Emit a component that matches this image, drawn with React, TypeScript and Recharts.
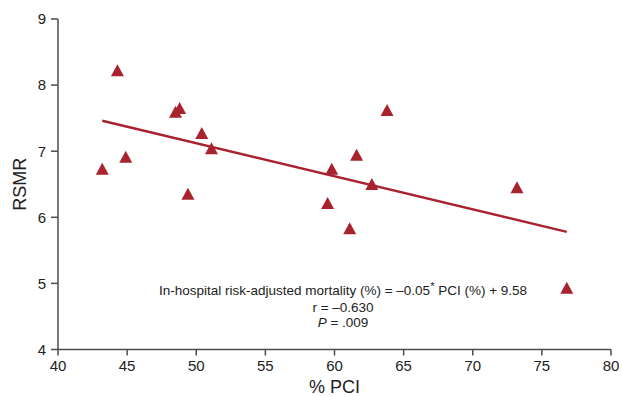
import { ReferenceLine, Scatter, ScatterChart, XAxis, YAxis, Label } from "recharts";

// % PCI per hospital and its risk-standardised mortality ratio
const pciPct = [43.2, 44.3, 44.9, 48.5, 48.8, 49.4, 50.4, 51.1, 59.5, 59.8, 61.1, 61.6, 62.7, 63.8, 73.2, 76.8];
const rsmr = [6.72, 8.21, 6.9, 7.58, 7.64, 6.34, 7.26, 7.03, 6.2, 6.72, 5.82, 6.93, 6.49, 7.61, 6.44, 4.92];

const fitStart = { x: 43.2, y: 7.46 };
const fitEnd = { x: 76.8, y: 5.78 };

const xTicks = [40, 45, 50, 55, 60, 65, 70, 75, 80];
const yTicks = [4, 5, 6, 7, 8, 9];

const points = pciPct.map((x, i) => ({ x, y: rsmr[i] }));

const RED = "#a8232e";
const AXIS = "#4d4d4d";
const FONT = '"Liberation Sans", Arial, sans-serif';

function Triangle(props: any) {
  const { cx, cy } = props;
  if (cx == null || cy == null) return null;
  return (
    <polygon
      points={`${cx},${cy - 7} ${cx + 6.5},${cy + 5} ${cx - 6.5},${cy + 5}`}
      fill={RED}
    />
  );
}

export default function App() {
  return (
    <div style={{ position: "absolute", left: 0, top: 0, width: 622, height: 397, background: "#fff", fontFamily: FONT }}>
      <ScatterChart width={622} height={397} margin={{ top: 19, right: 11, bottom: 0, left: 0 }}>
        <XAxis
          type="number"
          dataKey="x"
          domain={[40, 80]}
          ticks={xTicks}
          height={47.5}
          tickSize={6}
          tickMargin={5}
          stroke={AXIS}
          strokeWidth={1.5}
          tick={{ fill: "#222", fontSize: 15, fontFamily: FONT }}
        >
          <Label
            content={(p: any) => {
              const vb = p.viewBox || {};
              return (
                <text x={vb.x + vb.width / 2} y={393} textAnchor="middle" fontSize={18} fill="#222" fontFamily={FONT}>
                  % PCI
                </text>
              );
            }}
          />
        </XAxis>
        <YAxis
          type="number"
          dataKey="y"
          domain={[4, 9]}
          ticks={yTicks}
          width={58}
          tickSize={7}
          tickMargin={5}
          stroke={AXIS}
          strokeWidth={1.5}
          tick={{ fill: "#222", fontSize: 15, fontFamily: FONT }}
        >
          <Label
            content={(p: any) => {
              const vb = p.viewBox || {};
              const cy = vb.y + vb.height / 2;
              return (
                <text x={26} y={cy} transform={`rotate(-90 26 ${cy})`} textAnchor="middle" fontSize={18} fill="#222" fontFamily={FONT}>
                  RSMR
                </text>
              );
            }}
          />
        </YAxis>
        <ReferenceLine segment={[fitStart, fitEnd]} stroke={RED} strokeWidth={2.5} ifOverflow="visible" />
        <Scatter data={points} shape={<Triangle />} isAnimationActive={false} />
      </ScatterChart>
      <div
        style={{
          position: "absolute",
          left: 123,
          width: 440,
          top: 283,
          textAlign: "center",
          fontSize: 13.5,
          lineHeight: "15.5px",
          color: "#222",
        }}
      >
        <div>
          In-hospital risk-adjusted mortality (%) = –0.05
          <span style={{ fontSize: 11, position: "relative", top: -5 }}>*</span> PCI (%) + 9.58
        </div>
        <div>r = –0.630</div>
        <div>
          <i>P</i> = .009
        </div>
      </div>
    </div>
  );
}
